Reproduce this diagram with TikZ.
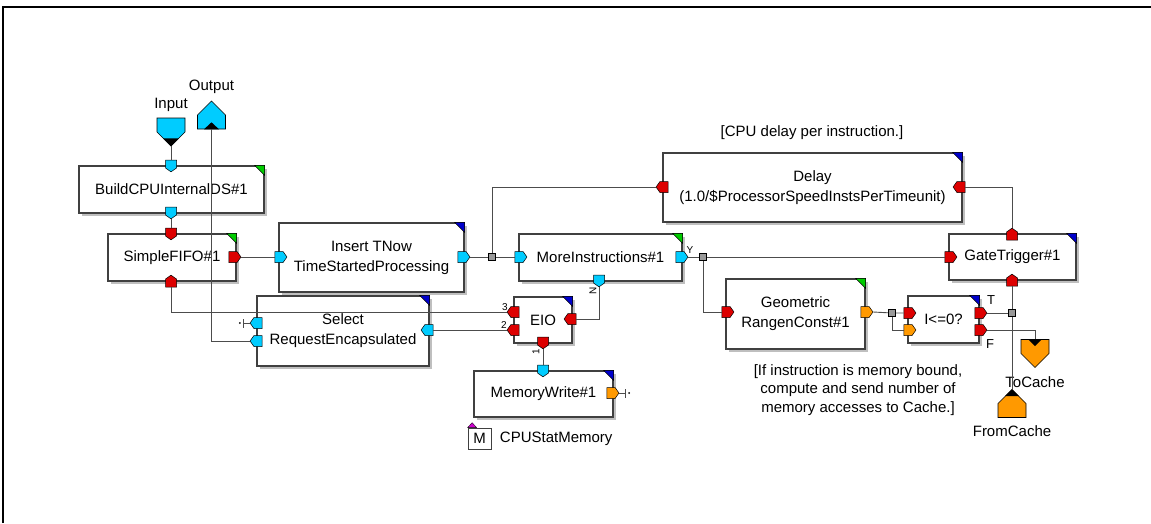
\documentclass[tikz,border=0pt]{standalone}
\usepackage{fontspec}
\setmainfont{Liberation Sans}
\usetikzlibrary{positioning,shapes.symbols,shadows}

\definecolor{pcyan}{RGB}{0,204,255}
\definecolor{pred}{RGB}{221,0,0}
\definecolor{porange}{RGB}{255,153,0}
\definecolor{cgreen}{RGB}{0,204,0}
\definecolor{cblue}{RGB}{0,0,204}
\definecolor{cmag}{RGB}{204,0,204}

\newcommand{\cornermark}[2]{%
  \filldraw[fill=#2, draw=black, line width=0.5pt] ([xshift=-10pt]#1.north east) -- (#1.north east) -- ([yshift=-10pt]#1.north east) -- cycle;}

\begin{document}
\begin{tikzpicture}[x=1pt, y=-1pt,
    font=\fontsize{15}{20}\selectfont,
    block/.style={draw=black!75, line width=1.3pt, fill=white, align=center, inner sep=2pt,
      drop shadow={shadow xshift=3pt, shadow yshift=-3pt, fill=black!25, opacity=1}},
    port/.style={signal, draw=black, line width=0.5pt, inner sep=0pt, signal pointer angle=110},
    pdown/.style={port, signal to=south, minimum width=11pt, minimum height=8pt, yshift=2pt},
    pup/.style={port, signal to=north, minimum width=11pt, minimum height=8pt, yshift=-2pt},
    pleft/.style={port, signal to=west, minimum width=12pt, minimum height=11pt},
    pright/.style={port, signal to=east, minimum width=12pt, minimum height=11pt},
    term/.style={signal, draw=black, line width=0.6pt, inner sep=0pt, minimum width=28pt, minimum height=14pt},
    wire/.style={draw=black!70, line width=0.9pt},
    junc/.style={rectangle, draw=black, fill=black!40, line width=0.5pt, minimum size=7pt, inner sep=0pt},
    tag/.style={font=\fontsize{10}{10}\selectfont, inner sep=0pt},
    note/.style={align=center, inner sep=0pt}
  ]
  \useasboundingbox (0,0) rectangle (1151,523);
  \draw[line width=2pt] (3,523) -- (3,7) -- (1151,7);

  % blocks
  \node[block, minimum width=185pt, minimum height=47pt] (build) at (171.5,189.5) {BuildCPUInternalDS\#1};
  \node[block, minimum width=128pt, minimum height=47pt] (fifo) at (172,257.5) {SimpleFIFO\#1};
  \node[block, minimum width=185pt, minimum height=69pt] (ins) at (371.5,257.5) {Insert TNow\\TimeStartedProcessing};
  \node[block, minimum width=172pt, minimum height=70pt] (sel) at (343,331) {Select\\RequestEncapsulated};
  \node[block, minimum width=163pt, minimum height=47pt] (more) at (600.5,257.5) {MoreInstructions\#1};
  \node[block, minimum width=58pt, minimum height=46pt] (eio) at (543,320) {EIO};
  \node[block, minimum width=139pt, minimum height=46pt] (mem) at (543.5,394) {MemoryWrite\#1};
  \node[block, minimum width=299pt, minimum height=69pt] (delay) at (812.5,187.5) {Delay\\(1.0/\$ProcessorSpeedInstsPerTimeunit)};
  \node[block, minimum width=127pt, minimum height=46pt] (gate) at (1012.5,257) {GateTrigger\#1};
  \node[block, minimum width=139pt, minimum height=70pt] (geo) at (795.5,314) {Geometric\\RangenConst\#1};
  \node[block, minimum width=71pt, minimum height=47pt] (ile) at (943.5,319.5) {I<=0?};

  \cornermark{build}{cgreen}
  \cornermark{fifo}{cgreen}
  \cornermark{ins}{cblue}
  \cornermark{sel}{cblue}
  \cornermark{more}{cgreen}
  \cornermark{eio}{cblue}
  \cornermark{mem}{cblue}
  \cornermark{delay}{cblue}
  \cornermark{gate}{cblue}
  \cornermark{geo}{cgreen}
  \cornermark{ile}{cblue}

  % terminals
  \node[term, fill=pcyan, signal to=south] (input) at (171,125) {};
  \node[term, fill=pcyan, signal to=north] (output) at (211.5,122) {};
  \node[term, fill=porange, signal to=south] (tocache) at (1035,346.5) {};
  \node[term, fill=porange, signal to=north] (fromcache) at (1012,410.5) {};
  \fill (input.south) -- ++(-8,-8) -- ++(16,0) -- cycle;
  \fill ([xshift=-7.5pt]output.south) -- ([xshift=7.5pt]output.south) -- ([yshift=7pt]output.south) -- cycle;
  \fill ([xshift=-7pt]tocache.north) -- ([xshift=7pt]tocache.north) -- ([yshift=-7pt]tocache.north) -- cycle;
  \fill (fromcache.north) -- ++(-7,7) -- ++(14,0) -- cycle;
  \node[above=3pt of input] (input-lbl) {Input};
  \node[above=3pt of output] (output-lbl) {Output};
  \node[below=5pt of tocache] (tocache-lbl) {ToCache};
  \node[below=4pt of fromcache] (fromcache-lbl) {FromCache};

  % ports
  \node[pdown, fill=pcyan] (build-in) at (171,166) {};
  \node[pdown, fill=pcyan] (build-out) at (171,213) {};
  \node[pdown, fill=pred] (fifo-in) at (171,234) {};
  \node[pup, fill=pred] (fifo-q) at (171,281) {};
  \node[pright, fill=pred] (fifo-out) at (233,257) {};
  \node[pright, fill=pcyan] (ins-in) at (279,257) {};
  \node[pright, fill=pcyan] (ins-out) at (462,257) {};
  \node[pleft, fill=pcyan] (sel-a) at (258,323) {};
  \node[pleft, fill=pcyan] (sel-b) at (258,341) {};
  \node[pleft, fill=pcyan] (sel-r) at (429,330) {};
  \node[pright, fill=pcyan] (more-in) at (519,257) {};
  \node[pright, fill=pcyan] (more-y) at (680,257) {};
  \node[pdown, fill=pcyan] (more-n) at (599,281) {};
  \node[pleft, fill=pred] (eio-3) at (515,312) {};
  \node[pleft, fill=pred] (eio-2) at (515,330) {};
  \node[pleft, fill=pred] (eio-r) at (572,319) {};
  \node[pdown, fill=pred] (eio-1) at (543,343) {};
  \node[pdown, fill=pcyan] (mem-in) at (543,371) {};
  \node[pright, fill=porange] (mem-o) at (611,393) {};
  \node[pleft, fill=pred] (delay-l) at (664,187) {};
  \node[pleft, fill=pred] (delay-r) at (961,187) {};
  \node[pup, fill=pred] (gate-t) at (1012,234) {};
  \node[pright, fill=pred] (gate-in) at (949,257) {};
  \node[pup, fill=pred] (gate-b) at (1012,280) {};
  \node[pright, fill=pred] (geo-in) at (726,312) {};
  \node[pright, fill=porange] (geo-out) at (865,312) {};
  \node[pright, fill=pred] (ile-a) at (908,313) {};
  \node[pright, fill=porange] (ile-b) at (908,330) {};
  \node[pright, fill=pred] (ile-t) at (979,313) {};
  \node[pright, fill=pred] (ile-f) at (979,330) {};

  % junctions
  \node[junc] (j1) at (492,257) {};
  \node[junc] (j2) at (703,257) {};
  \node[junc] (j3) at (892,313) {};

  % wires
  \draw[wire] (input.south) -- (build-in.north);
  \draw[wire] (build-out.south) -- (fifo-in.north);
  \draw[wire] (fifo-out.east) -- (ins-in.west);
  \draw[wire] (ins-out.east) -- (j1) -- (more-in.west);
  \draw[wire] (j1) |- (delay-l.west);
  \draw[wire] (fifo-q.south) |- (eio-3.west);
  \draw[wire] (output.south) |- (sel-b.west);
  \draw[wire] (sel-r.east) -- (eio-2.west);
  \draw[wire] (more-n.south) |- (eio-r.east);
  \draw[wire] (eio-1.south) -- (mem-in.north);
  \draw[wire] (more-y.east) -- (j2) -- (gate-in.west);
  \draw[wire] (j2) |- (geo-in.west);
  \draw[wire] (geo-out.east) -- (j3) -- (ile-a.west);
  \draw[wire] (j3) |- (ile-b.west);
  \draw[wire] (delay-r.east) -| (gate-t.north);
  \draw[wire] (gate-b.south) -- (fromcache.north);
  \draw[wire] (ile-f.east) -| (tocache.north);
  \node[junc] (j4) at (1012,313) {};
  \draw[wire] (ile-t.east) -- (j4);
  \node[junc] at (j1) {};
  \node[junc] at (j2) {};
  \node[junc] at (j3) {};

  % open ends
  \draw[wire] (sel-a.west) -- ++(-6,0) coordinate (sel-gnd);
  \draw[wire] ([yshift=-4.5pt]sel-gnd) -- ([yshift=4.5pt]sel-gnd);
  \fill ([xshift=-4pt]sel-gnd) circle (1pt);
  \draw[wire] (mem-o.east) -- ++(6,0) coordinate (mem-gnd);
  \draw[wire] ([yshift=-4.5pt]mem-gnd) -- ([yshift=4.5pt]mem-gnd);
  \fill ([xshift=4pt]mem-gnd) circle (1pt);

  % port tags
  \node[tag] (t3) at (505,307) {3};
  \node[tag] (t2) at (504,325) {2};
  \node[tag] (ty) at (690,250) {Y};
  \node[tag, rotate=90] (tn) at (593,291) {N};
  \node[tag, rotate=90] (t1) at (536,352) {1};
  \node[tag, font=\fontsize{13}{13}\selectfont] (tt) at (991,300) {T};
  \node[tag, font=\fontsize{13}{13}\selectfont] (tf) at (990,344) {F};

  % monitor
  \node[draw=black!75, line width=0.8pt, minimum width=23pt, minimum height=21pt, inner sep=0pt] (statbox) at (479.5,438.5) {M};
  \filldraw[fill=cmag, draw=black, line width=0.3pt] ([xshift=0pt]statbox.north west) -- ([xshift=9pt]statbox.north west) -- ([xshift=4.5pt, yshift=5pt]statbox.north west) -- cycle;
  \node[right=5pt of statbox] (statlbl) {CPUStatMemory};

  % comments
  \node[note] (delay-note) at (812,133) {[CPU delay per instruction.]};
  \node[note, font=\fontsize{15}{18.5}\selectfont] (geo-note) at (858,390) {[If instruction is memory bound,\\compute and send number of\\memory accesses to Cache.]};
\end{tikzpicture}
\end{document}
